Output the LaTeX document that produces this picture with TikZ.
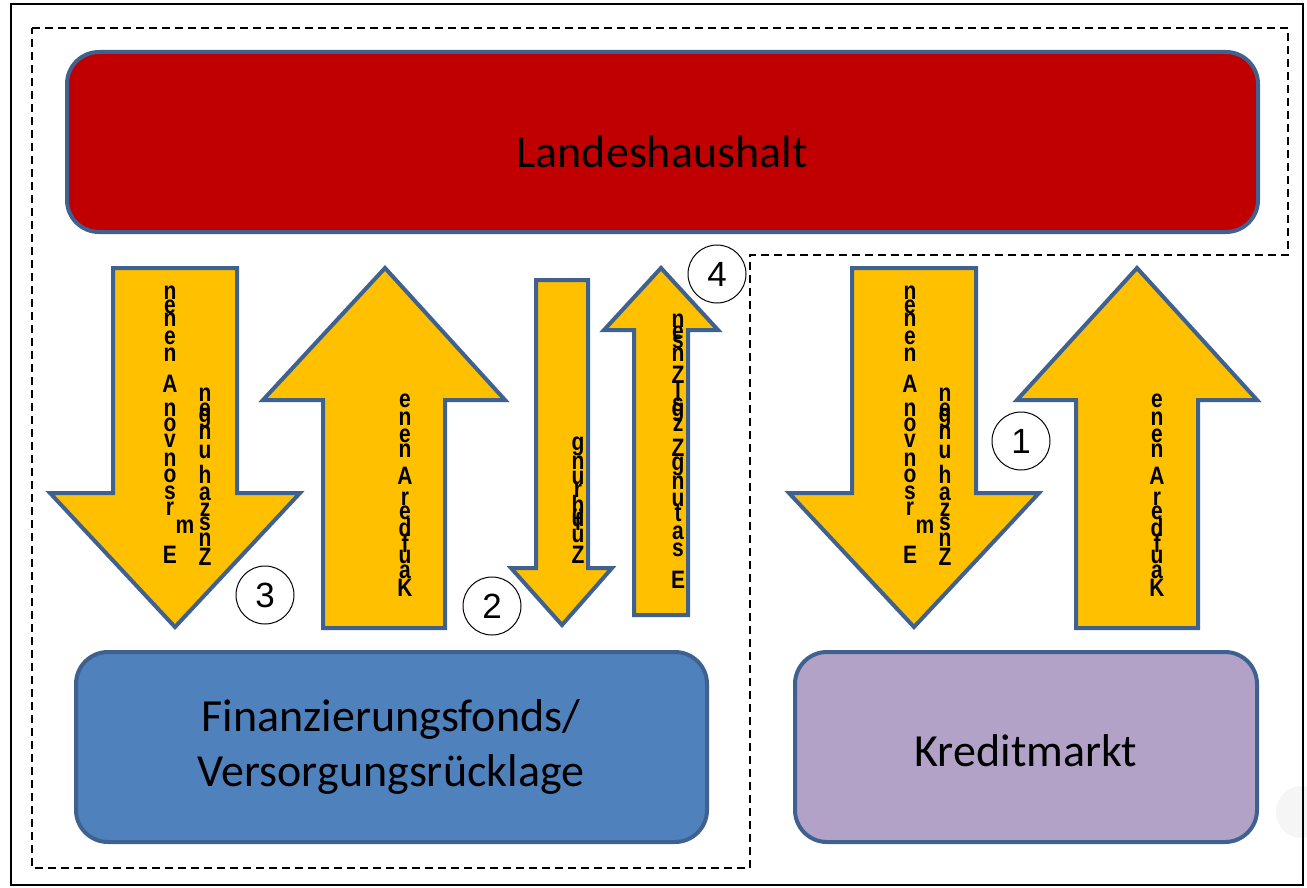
\documentclass[tikz,border=0pt]{standalone}
\usepackage{fontspec}
\setmainfont{Carlito}
\newfontfamily\arialf{Liberation Sans}
\definecolor{arrowyellow}{HTML}{FFC000}
\definecolor{edgeblue}{HTML}{3F6190}
\definecolor{redbox}{HTML}{C00000}
\definecolor{bluebox}{HTML}{4F81BD}
\definecolor{purplebox}{HTML}{B3A2C7}
\tikzset{
  bigarrow/.style={fill=arrowyellow, draw=edgeblue, line width=4pt, line join=miter},
  roundbox/.style={draw=edgeblue, line width=4pt, rounded corners=32pt, inner sep=0pt},
  boxtext/.style={font=\fontsize{46}{55}\selectfont, align=center, text=black, inner sep=0pt},
  numcircle/.style={circle, draw=black, line width=1pt, fill=white, minimum size=58pt, inner sep=0pt,
     font=\arialf\fontsize{35}{35}\selectfont},
  vletter/.style={inner sep=0pt, anchor=center, font=\arialf\bfseries\fontsize{21}{21}\selectfont},
  frameline/.style={draw=black, line width=1.5pt},
  dashline/.style={draw=black, line width=1.5pt, dash pattern=on 8pt off 5pt}
}
\begin{document}
\begin{tikzpicture}[x=1pt,y=-1pt]
\useasboundingbox (0,0) rectangle (1307,888);
\fill[white] (0,0) rectangle (1307,888);
\fill[gray!8] (1302,812) circle (26);
% outer frame
\draw[frameline] (11,4) rectangle (1303,885);
% dashed region
\draw[dashline] (32,28) -- (1288,28) -- (1288,255) -- (750,255) -- (750,868) -- (32,868) -- cycle;

% boxes
\node[roundbox, fill=redbox, minimum width=1191pt, minimum height=180pt] (lh) at (662.5,142) {};
\node[boxtext] (lht) at (662,152) {Landeshaushalt};
\node[roundbox, fill=bluebox, minimum width=631pt, minimum height=190pt] (ff) at (391.5,747) {};
\node[boxtext] (fft) at (391,747) {Finanzierungsfonds/\\Versorgungsrücklage};
\node[roundbox, fill=purplebox, minimum width=462pt, minimum height=190pt] (km) at (1026,747) {};
\node[boxtext] (kmt) at (1026,751) {Kreditmarkt};

% arrows
\draw[bigarrow] (113,268) -- (237,268) -- (237,493) -- (300,493) -- (175,627) -- (50,493) -- (113,493) -- cycle;
\draw[bigarrow] (323,628) -- (323,400) -- (263,400) -- (385,268) -- (505,400) -- (445,400) -- (445,628) -- cycle;
\draw[bigarrow] (536,280) -- (588,280) -- (588,568) -- (612,568) -- (562,625) -- (511,568) -- (536,568) -- cycle;
\draw[bigarrow] (634,615) -- (634,330) -- (604,330) -- (661,268) -- (718,330) -- (688,330) -- (688,615) -- cycle;
\draw[bigarrow] (852,268) -- (976,268) -- (976,493) -- (1039,493) -- (914,627) -- (789,493) -- (852,493) -- cycle;
\draw[bigarrow] (1076,628) -- (1076,400) -- (1017,400) -- (1137,268) -- (1257,400) -- (1198,400) -- (1198,628) -- cycle;

% vertical letter stacks
\foreach \dx in {0,740}{
  \foreach \l/\xx/\yy in {n/170/293, e/170/307, n/170/320, e/170/338, n/170/355, A/170/384,
      n/170/410, o/170/425, v/170/441, n/170/460, o/170/476, s/170/493, r/170/509, m/185/527, E/170/555}
    {\node[vletter] at (\xx+\dx,\yy) {\scalebox{1}[1.2]{\l}};}
  \foreach \l/\yy in {n/395, e/410, g/418, n/433, u/452, h/474, a/494, z/510, s/524, n/540, Z/557}
    {\node[vletter] at (205+\dx,\yy) {\scalebox{1}[1.2]{\l}};}
}
\foreach \dx in {0,752}{
  \foreach \l/\yy in {e/401, n/419, e/436, n/451, A/476, r/499, e/513, d/527, f/543, u/557, a/572, K/588}
    {\node[vletter] at (405+\dx,\yy) {\scalebox{1}[1.2]{\l}};}
}
\foreach \l/\yy in {g/446, n/463, u/478, r/491, h/504, ü/518, f/521, u/536, Z/555}
  {\node[vletter] at (578,\yy) {\scalebox{1}[1.2]{\l}};}
\foreach \l/\yy in {n/321, e/333, s/342, n/355, Z/375, l/392, s/405, g/412, z/425, Z/448,
    g/466, n/483, u/500, t/513, a/533, s/550, E/580}
  {\node[vletter] at (678,\yy) {\scalebox{1}[1.2]{\l}};}

% number circles
\node[numcircle] (c1) at (1021,441) {1};
\node[numcircle] (c2) at (492,606) {2};
\node[numcircle] (c3) at (265,595) {3};
\node[numcircle] (c4) at (717,274) {4};
\end{tikzpicture}
\end{document}
